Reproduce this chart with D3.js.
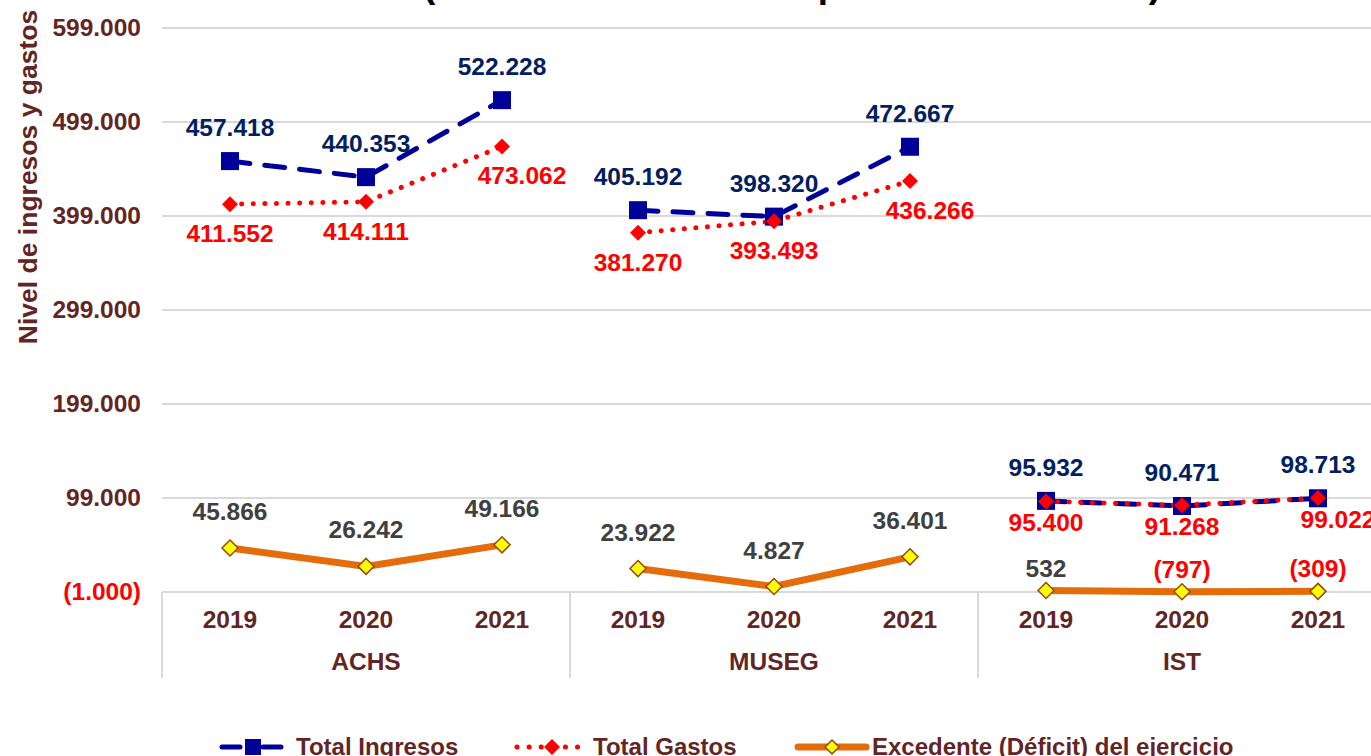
<!DOCTYPE html>
<meta charset="utf-8">
<script src="https://d3js.org/d3.v7.min.js"></script>
<style>
  body { margin: 0; background: #fff; }
  text { font-family: Arial, "Liberation Sans", sans-serif; font-weight: bold; }
</style>
<div id="chart"></div>
<script>

// data
var groups = ["ACHS", "MUSEG", "IST"];
var years = ["2019", "2020", "2021"];
var ingresos  = [457418, 440353, 522228, 405192, 398320, 472667, 95932, 90471, 98713];
var gastos    = [411552, 414111, 473062, 381270, 393493, 436266, 95400, 91268, 99022];
var excedente = [45866, 26242, 49166, 23922, 4827, 36401, 532, -797, -309];
var yTicks = [-1000, 99000, 199000, 299000, 399000, 499000, 599000];

var W = 1371, H = 756;
var plotLeft = 162, plotTop = 28, plotBottom = 592;
var catW = 136;
var labelSize = "24.5px";

var svg = d3.select("#chart").append("svg")
  .attr("width", W).attr("height", H);

var loc = d3.formatLocale({decimal: ",", thousands: ".", grouping: [3], currency: ["$", ""]});
var f = loc.format(",.0f");
function fmt(v) { return v < 0 ? "(" + f(-v) + ")" : f(v); }

var keys = [];
groups.forEach(function(g) { years.forEach(function(y) { keys.push(g + "|" + y); }); });

var x = d3.scaleBand().domain(keys).range([plotLeft, plotLeft + keys.length * catW]);
var y = d3.scaleLinear().domain([-1000, 599000]).range([plotBottom, plotTop]);
function cx(i) { return x(keys[i]) + x.bandwidth() / 2; }

// title (mostly cut off at the top)
svg.append("text")
  .attr("x", 792).attr("y", -3)
  .attr("text-anchor", "middle")
  .attr("font-size", "37px")
  .attr("fill", "#000")
  .text("(Cifras en millones de pesos de cada año)");

// gridlines
svg.append("g").selectAll("line")
  .data(yTicks).enter().append("line")
    .attr("x1", plotLeft).attr("x2", W)
    .attr("y1", function(d) { return y(d); })
    .attr("y2", function(d) { return y(d); })
    .attr("stroke", "#d9d9d9").attr("stroke-width", 2);

// y axis
var yAxis = svg.append("g")
  .attr("transform", "translate(" + plotLeft + ",0)")
  .call(d3.axisLeft(y).tickValues(yTicks).tickSize(0).tickPadding(21).tickFormat(fmt));
yAxis.select(".domain").remove();
yAxis.selectAll("text")
  .attr("font-size", labelSize)
  .attr("font-family", "Arial, 'Liberation Sans', sans-serif")
  .attr("font-weight", "bold")
  .attr("fill", function(d) { return d < 0 ? "#ff0000" : "#632523"; });

svg.append("text")
  .attr("transform", "translate(37,177) rotate(-90)")
  .attr("text-anchor", "middle")
  .attr("font-size", "26.5px")
  .attr("fill", "#632523")
  .text("Nivel de ingresos y gastos");

// category axis: separators, years, groups
var seps = svg.append("g");
groups.forEach(function(g, gi) {
  var x0 = x(keys[gi * 3]);
  seps.append("line")
    .attr("x1", x0).attr("x2", x0).attr("y1", plotBottom).attr("y2", 678)
    .attr("stroke", "#d9d9d9").attr("stroke-width", 2);
  svg.append("text")
    .attr("x", x0 + catW * 1.5).attr("y", 670)
    .attr("text-anchor", "middle")
    .attr("font-size", labelSize).attr("fill", "#632523")
    .text(g);
});
svg.append("g").selectAll("text")
  .data(keys).enter().append("text")
    .attr("x", function(d, i) { return cx(i); })
    .attr("y", 628)
    .attr("text-anchor", "middle")
    .attr("font-size", labelSize).attr("fill", "#632523")
    .text(function(d) { return d.split("|")[1]; });

var line = d3.line().x(function(d) { return cx(d.i); }).y(function(d) { return y(d.v); });
function segs(arr) {
  return groups.map(function(g, gi) {
    return [0, 1, 2].map(function(k) { return {i: gi * 3 + k, v: arr[gi * 3 + k]}; });
  });
}

// Excedente
svg.append("g").selectAll("path")
  .data(segs(excedente)).enter().append("path")
    .attr("d", line).attr("fill", "none")
    .attr("stroke", "#e46c0a").attr("stroke-width", 7);

// Ingresos
svg.append("g").selectAll("path")
  .data(segs(ingresos)).enter().append("path")
    .attr("d", line).attr("fill", "none")
    .attr("stroke", "#000099").attr("stroke-width", 5)
    .attr("stroke-dasharray", "20 15").attr("stroke-linecap", "round");

// Gastos
svg.append("g").selectAll("path")
  .data(segs(gastos)).enter().append("path")
    .attr("d", line).attr("fill", "none")
    .attr("stroke", "#ff0000").attr("stroke-width", 5)
    .attr("stroke-dasharray", "0.1 11.5").attr("stroke-linecap", "round");

var diamond = function(s) { return "M0," + (-s) + "L" + s + ",0L0," + s + "L" + (-s) + ",0Z"; };

// markers
svg.append("g").selectAll("rect")
  .data(ingresos).enter().append("rect")
    .attr("x", function(d, i) { return cx(i) - 9; })
    .attr("y", function(d) { return y(d) - 9; })
    .attr("width", 18).attr("height", 18)
    .attr("fill", "#000099");

svg.append("g").selectAll("path")
  .data(gastos).enter().append("path")
    .attr("transform", function(d, i) { return "translate(" + cx(i) + "," + y(d) + ")"; })
    .attr("d", diamond(8)).attr("fill", "#ff0000");

svg.append("g").selectAll("path")
  .data(excedente).enter().append("path")
    .attr("transform", function(d, i) { return "translate(" + cx(i) + "," + y(d) + ")"; })
    .attr("d", diamond(8)).attr("fill", "#ffff00")
    .attr("stroke", "#984807").attr("stroke-width", 1.5);

// data labels
svg.append("g").selectAll("text")
  .data(ingresos).enter().append("text")
    .attr("x", function(d, i) { return cx(i); })
    .attr("y", function(d) { return y(d) - 25; })
    .attr("text-anchor", "middle").attr("font-size", labelSize)
    .attr("fill", "#002060")
    .text(fmt);

svg.append("g").selectAll("text")
  .data(gastos).enter().append("text")
    .attr("x", function(d, i) { return cx(i) + (i % 3 == 2 ? 20 : 0); })
    .attr("y", function(d, i) { return y(d) + (i >= 6 ? 30 : 38); })
    .attr("text-anchor", "middle").attr("font-size", labelSize)
    .attr("fill", "#ff0000")
    .text(fmt);

svg.append("g").selectAll("text")
  .data(excedente).enter().append("text")
    .attr("x", function(d, i) { return cx(i); })
    .attr("y", function(d, i) { return y(d) - (i >= 6 ? 14 : 28); })
    .attr("text-anchor", "middle").attr("font-size", labelSize)
    .attr("fill", function(d) { return d < 0 ? "#ff0000" : "#404040"; })
    .text(fmt);

// legend
var lg = svg.append("g").attr("transform", "translate(0,747)");
lg.append("line").attr("x1", 222).attr("x2", 282).attr("y1", 0).attr("y2", 0)
  .attr("stroke", "#000099").attr("stroke-width", 5)
  .attr("stroke-dasharray", "18 23").attr("stroke-linecap", "round");
lg.append("rect").attr("x", 245).attr("y", -8).attr("width", 16).attr("height", 16).attr("fill", "#000099");
lg.append("text").attr("x", 296).attr("y", 8).attr("font-size", "24px").attr("fill", "#632523").text("Total Ingresos");

lg.append("line").attr("x1", 517).attr("x2", 578).attr("y1", 0).attr("y2", 0)
  .attr("stroke", "#ff0000").attr("stroke-width", 5)
  .attr("stroke-dasharray", "0.1 12").attr("stroke-linecap", "round");
lg.append("path").attr("transform", "translate(552,0)").attr("d", diamond(8)).attr("fill", "#ff0000");
lg.append("text").attr("x", 593).attr("y", 8).attr("font-size", "24px").attr("fill", "#632523").text("Total Gastos");

lg.append("line").attr("x1", 798).attr("x2", 866).attr("y1", 0).attr("y2", 0)
  .attr("stroke", "#e46c0a").attr("stroke-width", 7).attr("stroke-linecap", "round");
lg.append("path").attr("transform", "translate(832,0)").attr("d", diamond(7)).attr("fill", "#ffff00")
  .attr("stroke", "#984807").attr("stroke-width", 1.5);
lg.append("text").attr("x", 872).attr("y", 8).attr("font-size", "24px").attr("fill", "#632523").text("Excedente (Déficit) del ejercicio");

</script>
